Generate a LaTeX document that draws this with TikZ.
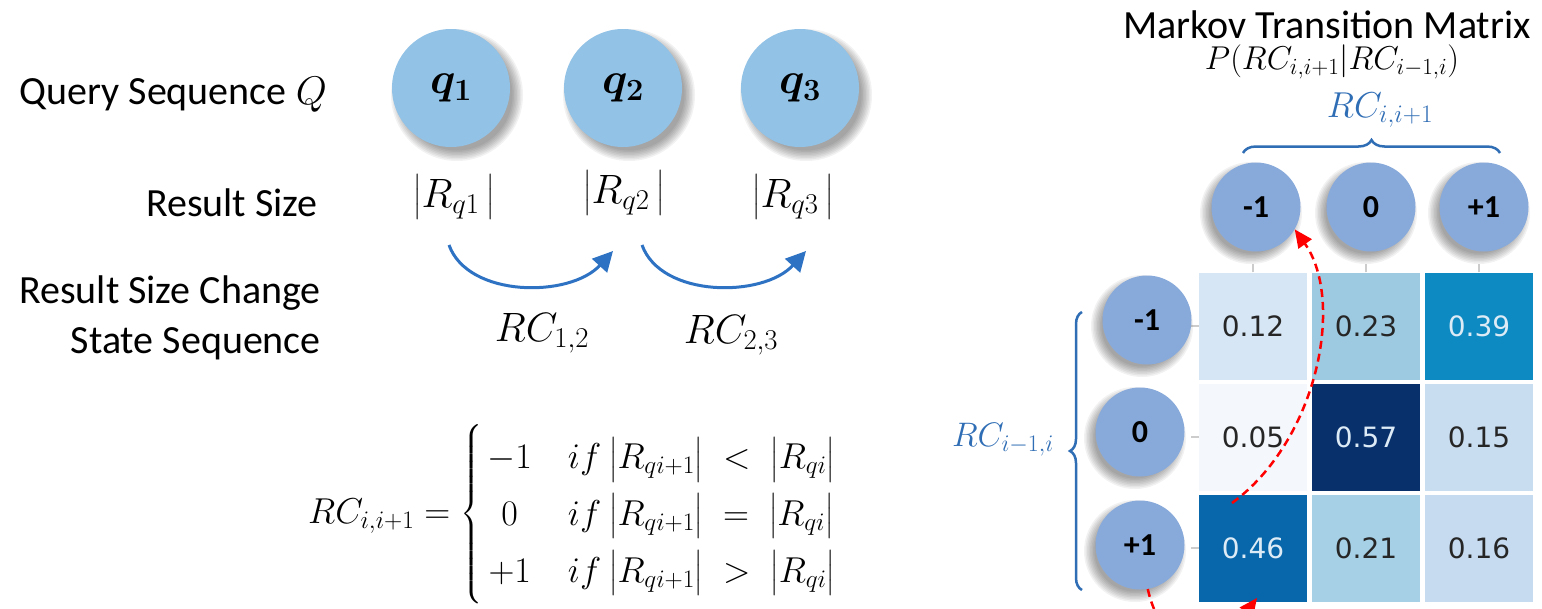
\RequirePackage{fix-cm}
\documentclass[tikz,border=0pt]{standalone}
\usepackage{amsmath}
\usepackage{fontspec}
\setmainfont{Carlito}
\newfontfamily\cellfont{DejaVu Sans}
\usetikzlibrary{decorations.pathreplacing,arrows.meta,calc}
\definecolor{qblue}{HTML}{92C2E6}
\definecolor{sblue}{HTML}{88AADB}
\definecolor{arrblue}{HTML}{2E72C4}
\definecolor{lblue}{HTML}{2F6DB5}
\definecolor{txtgray}{HTML}{262626}
\definecolor{lighttxt}{HTML}{DDEBF6}
\definecolor{c11}{HTML}{D6E6F4}
\definecolor{c12}{HTML}{9ECAE1}
\definecolor{c13}{HTML}{0E8AC2}
\definecolor{c21}{HTML}{F4F8FC}
\definecolor{c22}{HTML}{08306B}
\definecolor{c23}{HTML}{C9DDF0}
\definecolor{c31}{HTML}{0767AA}
\definecolor{c32}{HTML}{A6D0E6}
\definecolor{c33}{HTML}{C6DBEF}
\newcommand\softshadow[5]{\foreach \k in {0,...,7}{\fill[black,opacity=0.05] ({#1+#4},{#2+#5}) circle[radius={(#3+7-1.5*\k)*1pt}];}}
\newcommand\wrel[1]{\mathrel{\;#1\;}}
\begin{document}
\begin{tikzpicture}[x=1pt,y=-1pt,
  lbl/.style={font=\fontsize{40}{50}\selectfont, inner sep=0pt},
  qcirc/.style={circle, fill=qblue, minimum size=118pt, inner sep=0pt, font=\fontsize{44}{50}\selectfont},
  scirc/.style={circle, fill=sblue, minimum size=89pt, inner sep=0pt, font=\fontsize{32}{36}\selectfont\bfseries},
  mth/.style={font=\fontsize{41}{46}\selectfont, inner sep=0pt},
  barrow/.style={draw=arrblue, line width=3pt, -{Triangle[length=20pt,width=20pt]}},
  rarrow/.style={draw=red, line width=2.5pt, dashed, dash pattern=on 8pt off 5pt, -{Triangle[length=18pt,width=16pt]}},
  cell/.style={minimum width=108pt, minimum height=107pt, inner sep=0pt, font=\fontsize{28}{32}\selectfont\cellfont},
  tick/.style={draw=black!20, line width=1.5pt},
  brace/.style={draw=lblue, line width=2.5pt, decorate}
]
\useasboundingbox (0,0) rectangle (1542,608);
\fill[white] (0,0) rectangle (1542,608);

% left labels
\node[lbl, anchor=east] (lq) at (327,95) {Query Sequence $Q$};
\node[lbl, anchor=east] (lr) at (318,203) {Result Size};
\node[lbl, anchor=east, align=right] (lc) at (321,318) {Result Size Change\\State Sequence};

% query circles
\softshadow{451}{88}{59}{6}{7}
\softshadow{623}{88}{59}{6}{7}
\softshadow{800}{88}{59}{6}{7}
\node[qcirc] (q1) at (451,88) {$\boldsymbol{q_1}$};
\node[qcirc] (q2) at (623,88) {$\boldsymbol{q_2}$};
\node[qcirc] (q3) at (800,88) {$\boldsymbol{q_3}$};

% result sizes
\node[mth] (r1) at (454,197) {$\bigl|R_{q1}\,\bigr|$};
\node[mth] (r2) at (624,193) {$\bigl|R_{q2}\,\bigr|$};
\node[mth] (r3) at (793,197) {$\bigl|R_{q3}\,\bigr|$};

% change arrows
\coordinate (a1s) at (449,245); \coordinate (a1e) at (613,251);
\coordinate (a2s) at (642,245); \coordinate (a2e) at (806,251);
\draw[barrow] (a1s) .. controls (468,298) and (570,298) .. (a1e);
\draw[barrow] (a2s) .. controls (661,298) and (763,298) .. (a2e);
\node[mth] (rc12) at (542,333) {$RC_{1,2}$};
\node[mth] (rc23) at (731,335) {$RC_{2,3}$};

% equation
\node[anchor=west, inner sep=0pt, font=\fontsize{36}{40}\selectfont] (eq) at (308,514)
 {\renewcommand\arraystretch{1.42}$RC_{i,i+1} = \left\{\begin{array}{c@{\quad}l}
   -1 & if\ \bigl|R_{qi+1}\bigr| \wrel{<} \bigl|R_{qi}\bigr| \\
    0 & if\ \bigl|R_{qi+1}\bigr| \wrel{=} \bigl|R_{qi}\bigr| \\
   +1 & if\ \bigl|R_{qi+1}\bigr| \wrel{>} \bigl|R_{qi}\bigr|
 \end{array}\right.$};

% right: title
\node[lbl] (title) at (1327,25) {Markov Transition Matrix};
\node[font=\fontsize{33}{36}\selectfont, inner sep=0pt] (pl) at (1332,62) {$P(RC_{i,i+1}|RC_{i-1,i})$};
\node[font=\fontsize{36}{40}\selectfont, inner sep=0pt, text=lblue] (rcc) at (1380,110) {$RC_{i,i+1}$};
\draw[brace, decoration={brace, amplitude=13pt}] (1243,153) -- (1500,153);
\node[font=\fontsize{34}{38}\selectfont, inner sep=0pt, text=lblue, anchor=east] (rcr) at (1054,440) {$RC_{i-1,i}$};
\draw[brace, decoration={brace, amplitude=12pt}] (1082,590) -- (1082,312);

% cells
\node[cell, fill=c11, text=txtgray] (m11) at (1253,326) {0.12};
\node[cell, fill=c12, text=txtgray] (m12) at (1366,326) {0.23};
\node[cell, fill=c13, text=lighttxt] (m13) at (1479,326) {0.39};
\node[cell, fill=c21, text=txtgray] (m21) at (1253,437) {0.05};
\node[cell, fill=c22, text=lighttxt] (m22) at (1366,437) {0.57};
\node[cell, fill=c23, text=txtgray] (m23) at (1479,437) {0.15};
\node[cell, fill=c31, text=lighttxt] (m31) at (1253,548) {0.46};
\node[cell, fill=c32, text=txtgray] (m32) at (1366,548) {0.21};
\node[cell, fill=c33, text=txtgray] (m33) at (1479,548) {0.16};

% ticks
\draw[tick] (m11.north) -- ++(0,-8);
\draw[tick] (m12.north) -- ++(0,-8);
\draw[tick] (m13.north) -- ++(0,-8);
\draw[tick] (m11.west) -- ++(-8,0);
\draw[tick] (m21.west) -- ++(-8,0);
\draw[tick] (m31.west) -- ++(-8,0);

% state circles
\softshadow{1256}{207}{44}{-5}{6}
\softshadow{1371}{207}{44}{-5}{6}
\softshadow{1484}{207}{44}{-5}{6}
\softshadow{1147}{320}{44}{-5}{6}
\softshadow{1140}{432}{44}{-5}{6}
\softshadow{1140}{545}{44}{-5}{6}
\node[scirc] (c1) at (1256,207) {-1};
\node[scirc] (c2) at (1371,207) {0};
\node[scirc] (c3) at (1484,207) {+1};
\node[scirc] (s1) at (1147,320) {-1};
\node[scirc] (s2) at (1140,432) {0};
\node[scirc] (s3) at (1140,545) {+1};

% red dashed arrows
\begin{scope}
\clip (0,0) rectangle (1542,608);
\coordinate (ra) at (1232,503);
\draw[rarrow] (ra) .. controls (1318,440) and (1345,300) .. (c1.-30);
\coordinate (rb) at (1257,598);
\draw[rarrow] (s3.-80) .. controls (1165,665) and (1222,645) .. (rb);
\end{scope}
\end{tikzpicture}
\end{document}
